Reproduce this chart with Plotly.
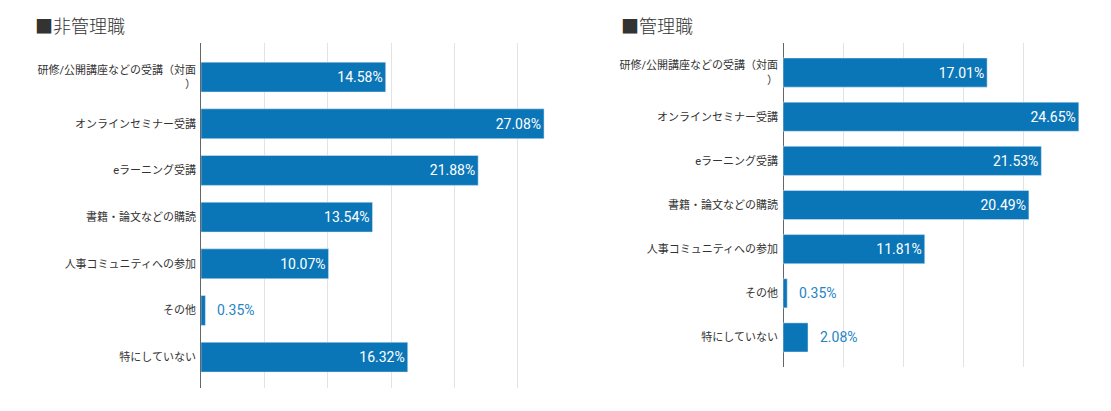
import plotly.graph_objects as go

# categories (top to bottom)
categories = [
    "研修/公開講座などの受講（対面<br>）",
    "オンラインセミナー受講",
    "eラーニング受講",
    "書籍・論文などの購読",
    "人事コミュニティへの参加",
    "その他",
    "特にしていない",
]

non_manager = [14.58, 27.08, 21.88, 13.54, 10.07, 0.35, 16.32]
manager = [17.01, 24.65, 21.53, 20.49, 11.81, 0.35, 2.08]

bar_color = '#0b76b7'
label_blue = '#2585c4'
font_family = 'Roboto, "Noto Sans CJK JP", sans-serif'


def label_pos(values, limit):
    pos = []
    for v in values:
        pos.append('inside' if v >= limit else 'none')
    return pos


fig = go.Figure()

for vals, xa, ya, w in [(non_manager, 'x', 'y', 0.64), (manager, 'x2', 'y2', 0.66)]:
    fig.add_trace(go.Bar(
        x=vals,
        y=categories,
        orientation='h',
        marker=dict(color=bar_color),
        width=w,
        text=['%.2f%%' % v for v in vals],
        textposition=label_pos(vals, 5),
        insidetextanchor='end',
        textfont=dict(color='white', size=14, family=font_family),
        cliponaxis=False,
        xaxis=xa,
        yaxis=ya,
        showlegend=False,
    ))
    # small bars get their label outside, in blue
    for cat, v in zip(categories, vals):
        if v < 5:
            fig.add_annotation(
                x=v, y=cat, xref=xa, yref=ya,
                text='%.2f%%' % v,
                showarrow=False,
                xanchor='left',
                xshift=10,
                font=dict(color=label_blue, size=14, family=font_family),
            )

axis_common = dict(
    showticklabels=False,
    showgrid=True,
    gridcolor='#e3e3e3',
    gridwidth=1,
    zeroline=True,
    zerolinecolor='#666666',
    zerolinewidth=1,
    dtick=5,
    fixedrange=True,
)
yaxis_common = dict(
    type='category',
    tickfont=dict(size=11, color='#333333', family=font_family),
    ticks='',
    ticklabelstandoff=4,
    showgrid=False,
    fixedrange=True,
)

fig.update_layout(
    width=1111,
    height=411,
    margin=dict(l=0, r=0, t=0, b=0),
    plot_bgcolor='white',
    paper_bgcolor='white',
    font=dict(family=font_family),
    xaxis=dict(domain=[0.1809, 0.5230], range=[0, 30], **axis_common),
    yaxis=dict(domain=[0.056, 0.8954], range=[6.66, -0.73], anchor='x', **yaxis_common),
    xaxis2=dict(domain=[0.7048, 0.9748], range=[0, 25], anchor='y2', **axis_common),
    yaxis2=dict(domain=[0.107, 0.8954], range=[6.67, -0.67], anchor='x2', **yaxis_common),
)

fig.add_annotation(x=33 / 1111, y=1 - 25 / 411, xref='paper', yref='paper',
                   text='■非管理職', showarrow=False, xanchor='left', yanchor='middle',
                   font=dict(size=18, color='#333333', family='"Noto Sans CJK JP"', weight=300))
fig.add_annotation(x=619 / 1111, y=1 - 25 / 411, xref='paper', yref='paper',
                   text='■管理職', showarrow=False, xanchor='left', yanchor='middle',
                   font=dict(size=18, color='#333333', family='"Noto Sans CJK JP"', weight=300))

# drop the default body margin so the figure sits at the page corner
fig.write_html("out.html", config={'displayModeBar': False},
               post_script="document.body.style.margin='0px';")
